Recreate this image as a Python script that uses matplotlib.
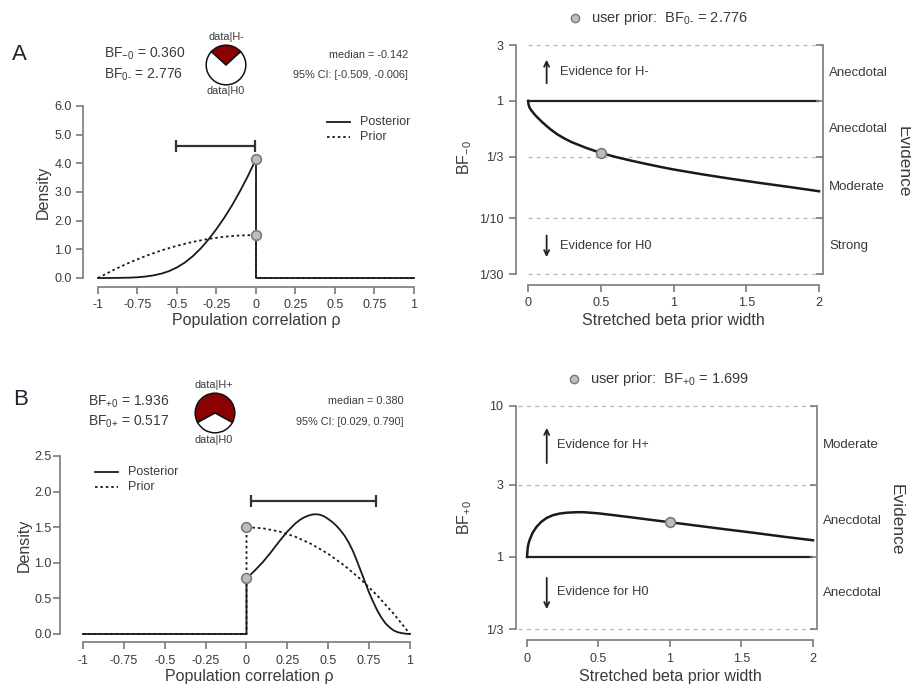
import matplotlib
matplotlib.use('Agg')
import matplotlib.pyplot as plt
from matplotlib.ticker import NullLocator
from matplotlib.lines import Line2D

plt.rcParams['font.family'] = ['Liberation Sans', 'DejaVu Sans']
plt.rcParams['mathtext.fontset'] = 'custom'
plt.rcParams['mathtext.rm'] = 'Liberation Sans'
plt.rcParams['mathtext.it'] = 'Liberation Sans:italic'

W, H, DPI = 912, 687, 100

# ---------------- data ----------------
rho_ticks = [-1, -0.75, -0.5, -0.25, 0, 0.25, 0.5, 0.75, 1]
rho_ticklabels = ['-1', '-0.75', '-0.5', '-0.25', '0', '0.25', '0.5', '0.75', '1']

# Panel A (one-sided H-)
A_post_rho = [-1.0, -0.9, -0.8, -0.75, -0.7, -0.65, -0.6, -0.55, -0.5, -0.45, -0.4,
              -0.35, -0.3, -0.25, -0.2, -0.15, -0.1, -0.05, 0.0, 0.0, 1.0]
A_post = [0.0, 0.002, 0.012, 0.025, 0.05, 0.09, 0.15, 0.24, 0.37, 0.54, 0.76,
          1.03, 1.35, 1.71, 2.11, 2.55, 3.04, 3.57, 4.15, 0.0, 0.0]
A_prior_rho = [-1.0, -0.9, -0.8, -0.7, -0.6, -0.5, -0.4, -0.3, -0.2, -0.1, 0.0, 0.0, 1.0]
A_prior = [0.0, 0.285, 0.54, 0.765, 0.96, 1.125, 1.26, 1.365, 1.44, 1.485, 1.5, 0.0, 0.0]
A_post_at0 = 4.15
A_prior_at0 = 1.5
A_ci = [-0.509, -0.006]
A_yticks = [0, 1, 2, 3, 4, 5, 6]
A_yticklabels = ['0.0', '1.0', '2.0', '3.0', '4.0', '5.0', '6.0']
A_bf10 = 0.360
A_bf01 = 2.776
A_median = -0.142

A_width = [0.0, 0.004, 0.01, 0.02, 0.035, 0.05, 0.075, 0.1, 0.15, 0.2, 0.25, 0.3,
           0.4, 0.5, 0.6, 0.7, 0.8, 0.9, 1.0, 1.2, 1.4, 1.6, 1.8, 2.0]
A_bf = [1.0, 0.93, 0.88, 0.84, 0.795, 0.755, 0.702, 0.655, 0.578, 0.52, 0.478, 0.445,
        0.397, 0.36, 0.333, 0.311, 0.292, 0.275, 0.26, 0.236, 0.216, 0.199, 0.184, 0.1695]
A_user_width = 0.5
A_user_bf = 1 / 2.776
A_levels = [1 / 30, 1 / 10, 1 / 3, 1, 3]
A_levellabels = ['1/30', '1/10', '1/3', '1', '3']
A_evidence = ['Strong', 'Moderate', 'Anecdotal', 'Anecdotal']

# Panel B (one-sided H+)
B_post_rho = [-1.0, 0.0, 0.0, 0.05, 0.1, 0.15, 0.2, 0.25, 0.3, 0.325, 0.35, 0.375, 0.4,
              0.425, 0.45, 0.475, 0.5, 0.525, 0.55, 0.575, 0.6, 0.625, 0.65, 0.675, 0.7,
              0.725, 0.75, 0.775, 0.8, 0.825, 0.85, 0.875, 0.9, 0.925, 0.95, 0.975, 1.0]
B_post = [0.0, 0.0, 0.78, 0.89, 1.01, 1.15, 1.30, 1.44, 1.555, 1.60, 1.635, 1.66, 1.677,
          1.682, 1.675, 1.652, 1.615, 1.572, 1.52, 1.455, 1.38, 1.285, 1.17, 1.03, 0.88,
          0.73, 0.58, 0.45, 0.33, 0.23, 0.15, 0.093, 0.05, 0.025, 0.012, 0.004, 0.0]
B_prior_rho = [-1.0, 0.0, 0.0, 0.1, 0.2, 0.3, 0.4, 0.5, 0.6, 0.7, 0.8, 0.9, 1.0]
B_prior = [0.0, 0.0, 1.5, 1.485, 1.44, 1.365, 1.26, 1.125, 0.96, 0.765, 0.54, 0.285, 0.0]
B_post_at0 = 0.78
B_prior_at0 = 1.5
B_ci = [0.029, 0.790]
B_yticks = [0, 0.5, 1.0, 1.5, 2.0, 2.5]
B_yticklabels = ['0.0', '0.5', '1.0', '1.5', '2.0', '2.5']
B_bf10 = 1.936
B_bf01 = 0.517
B_median = 0.380

B_width = [0.0, 0.005, 0.01, 0.02, 0.04, 0.066, 0.1, 0.136, 0.18, 0.23, 0.28, 0.35,
           0.4, 0.5, 0.6, 0.7, 0.8, 0.9, 1.0, 1.2, 1.4, 1.6, 1.8, 2.0]
B_bf = [1.0, 1.15, 1.22, 1.31, 1.45, 1.58, 1.71, 1.81, 1.89, 1.94, 1.965, 1.98,
        1.978, 1.945, 1.895, 1.845, 1.795, 1.745, 1.699, 1.607, 1.52, 1.44, 1.36, 1.29]
B_user_width = 1.0
B_user_bf = 1.699
B_levels = [1 / 3, 1, 3, 10]
B_levellabels = ['1/3', '1', '3', '10']
B_evidence = ['Anecdotal', 'Anecdotal', 'Moderate']

width_ticks = [0, 0.5, 1, 1.5, 2]
width_ticklabels = ['0', '0.5', '1', '1.5', '2']

# ---------------- style ----------------
SPINE = '#7a7a7a'
TXT = '#3a3a3a'
CURVE = '#1a1a1a'
PT_FACE = '#bdbdbd'
PT_EDGE = '#7a7a7a'
RED = '#8b0000'


def px2pt(p):
    return p * 72 / DPI


def box(l, t, r, b):
    return [l / W, 1 - b / H, (r - l) / W, (b - t) / H]


def ftext(x, y, s, **kw):
    kw.setdefault('color', TXT)
    fig.text(x / W, 1 - y / H, s, **kw)


fig = plt.figure(figsize=(W / DPI, H / DPI), dpi=DPI)


def density_panel(rect, post_rho, post, prior_rho, prior, at0, ci, ci_y,
                  yticks, yticklabels, left_out, bottom_out, legend_xy, ypad):
    ax = fig.add_axes(rect)
    ax.set_xlim(-1, 1)
    ax.set_ylim(yticks[0], yticks[-1])
    ax.plot(prior_rho, prior, color=CURVE, lw=1.3, ls=(0, (1.4, 1.6)), clip_on=False, zorder=3)
    ax.plot(post_rho, post, color=CURVE, lw=1.3, clip_on=False, zorder=3,
            solid_joinstyle='round')
    ax.plot([0, 0], at0, ls='none', marker='o', ms=7, mfc=PT_FACE, mec=PT_EDGE,
            mew=1.2, clip_on=False, zorder=5)
    ax.plot(ci, [ci_y, ci_y], color='#333333', lw=1.6, marker='|', ms=9, mew=1.6,
            clip_on=False, zorder=4)
    for s in ['top', 'right']:
        ax.spines[s].set_visible(False)
    ax.spines['left'].set_position(('outward', px2pt(left_out)))
    ax.spines['bottom'].set_position(('outward', px2pt(bottom_out)))
    ax.spines['left'].set_bounds(yticks[0], yticks[-1])
    ax.spines['bottom'].set_bounds(-1, 1)
    for s in ['left', 'bottom']:
        ax.spines[s].set_color(SPINE)
        ax.spines[s].set_linewidth(1.2)
    ax.set_xticks(rho_ticks)
    ax.set_xticklabels(rho_ticklabels)
    ax.set_yticks(yticks)
    ax.set_yticklabels(yticklabels)
    ax.tick_params(axis='both', colors=SPINE, labelcolor=TXT, labelsize=9,
                   length=5, width=1.2, pad=4)
    ax.tick_params(axis='y', pad=ypad)
    ax.patch.set_visible(False)
    # legend
    lx, ly = legend_xy
    fig.add_artist(Line2D([lx / W, (lx + 23) / W], [1 - ly / H, 1 - ly / H],
                          color=CURVE, lw=1.3))
    fig.add_artist(Line2D([lx / W, (lx + 23) / W], [1 - (ly + 15) / H, 1 - (ly + 15) / H],
                          color=CURVE, lw=1.3, ls=(0, (1.4, 1.6))))
    ftext(lx + 33, ly, 'Posterior', fontsize=9, va='center')
    ftext(lx + 33, ly + 15, 'Prior', fontsize=9, va='center')
    return ax


def bf_panel(rect, width, bf, user_w, user_bf, levels, levellabels, evidence,
             left_out, bottom_out, right_out, dash_x0, hyp, arrows, title_xy, title):
    ax = fig.add_axes(rect)
    ax.set_yscale('log')
    ax.set_xlim(0, 2)
    ax.set_ylim(levels[0], levels[-1])
    for lev in levels:
        if lev != 1:
            ax.plot([dash_x0, 2.03], [lev, lev], color='#bdbdbd', lw=1.0,
                    ls=(0, (3, 3)), clip_on=False, zorder=1)
    ax.plot([0, 2], [1, 1], color='#222222', lw=1.6, zorder=2)
    ax.plot(width, bf, color=CURVE, lw=1.8, clip_on=False, zorder=3,
            solid_joinstyle='round')
    ax.plot([user_w], [user_bf], ls='none', marker='o', ms=7, mfc=PT_FACE, mec=PT_EDGE,
            mew=1.2, zorder=5)
    for s in ['top', 'right']:
        ax.spines[s].set_visible(False)
    ax.spines['left'].set_position(('outward', px2pt(left_out)))
    ax.spines['bottom'].set_position(('outward', px2pt(bottom_out)))
    ax.spines['left'].set_bounds(levels[0], levels[-1])
    ax.spines['bottom'].set_bounds(0, 2)
    for s in ['left', 'bottom']:
        ax.spines[s].set_color(SPINE)
        ax.spines[s].set_linewidth(1.2)
    ax.set_xticks(width_ticks)
    ax.set_xticklabels(width_ticklabels)
    ax.set_yticks(levels)
    ax.set_yticklabels(levellabels)
    ax.yaxis.set_minor_locator(NullLocator())
    ax.tick_params(axis='both', colors=SPINE, labelcolor=TXT, labelsize=9,
                   length=5, width=1.2, pad=4)
    ax.patch.set_visible(False)
    # right evidence axis
    axr = ax.twinx()
    axr.set_yscale('log')
    axr.set_ylim(levels[0], levels[-1])
    axr.set_yticks(levels)
    axr.set_yticklabels([])
    axr.yaxis.set_minor_locator(NullLocator())
    for s in ['top', 'left', 'bottom']:
        axr.spines[s].set_visible(False)
    axr.spines['right'].set_position(('outward', px2pt(right_out)))
    axr.spines['right'].set_bounds(levels[0], levels[-1])
    axr.spines['right'].set_color(SPINE)
    axr.spines['right'].set_linewidth(1.2)
    axr.tick_params(axis='y', direction='in', colors=SPINE, length=5, width=1.2)
    for i, lab in enumerate(evidence):
        ymid = (levels[i] * levels[i + 1]) ** 0.5
        ax.text(2.07, ymid, lab, fontsize=9.5, color=TXT, va='center', ha='left',
                clip_on=False)
    # arrows
    (ux, ut, uh, uy, utext), (dx, dt, dh, dy, dtext) = arrows
    ax.annotate('', xy=(ux, uh), xytext=(ux, ut),
                arrowprops=dict(arrowstyle='->', lw=1.3, color='#222222', mutation_scale=9))
    ax.text(utext, uy, 'Evidence for ' + hyp, fontsize=9.3, color=TXT, va='center')
    ax.annotate('', xy=(dx, dh), xytext=(dx, dt),
                arrowprops=dict(arrowstyle='->', lw=1.3, color='#222222', mutation_scale=9))
    ax.text(dtext, dy, 'Evidence for H0', fontsize=9.3, color=TXT, va='center')
    # title
    tx, ty = title_xy
    fig.add_artist(Line2D([tx / W], [1 - ty / H], ls='none', marker='o', ms=6,
                          mfc=PT_FACE, mec=PT_EDGE, mew=1.0))
    ftext(tx + 16, ty, title, fontsize=10.5, va='center')
    return ax


def pie(cx, cy, r, p):
    axp = fig.add_axes(box(cx - r - 1, cy - r - 1, cx + r + 1, cy + r + 1))
    axp.pie([p, 1 - p], colors=[RED, 'white'], startangle=90 - p * 180,
            counterclock=True, radius=1.0,
            wedgeprops=dict(edgecolor='#111111', linewidth=1.1))
    axp.set_xlim(-1.06, 1.06)
    axp.set_ylim(-1.06, 1.06)
    axp.set_aspect('equal')
    axp.axis('off')


BF0m = r'$\mathregular{BF_{0\text{-}}}$'
BF0p = r'$\mathregular{BF_{0\text{+}}}$'

# ---------------- Panel A ----------------
density_panel(box(98, 106, 414, 278), A_post_rho, A_post, A_prior_rho, A_prior,
              [A_post_at0, A_prior_at0], A_ci, 4.6, A_yticks, A_yticklabels,
              15, 9, (327, 122), 3)
ftext(43, 192, 'Density', fontsize=11.5, rotation=90, ha='center', va='center')
ftext(256, 321, 'Population correlation ρ', fontsize=11.5, ha='center', va='center')

ftext(12, 55, 'A', fontsize=16, ha='left', va='center', color='#222222')
ftext(104, 54, r'$\mathregular{BF_{-0}}$ = %.3f' % A_bf10, fontsize=10, va='center')
ftext(104, 75, BF0m + ' = %.3f' % A_bf01, fontsize=10, va='center')
pie(226, 65, 20, A_bf10 / (1 + A_bf10))
ftext(226, 37, 'data|H-', fontsize=7.8, ha='center', va='center')
ftext(226, 91, 'data|H0', fontsize=7.8, ha='center', va='center')
ftext(408, 55, 'median = %.3f' % A_median, fontsize=7.8, ha='right', va='center')
ftext(408, 75, '95%% CI: [%.3f, %.3f]' % (A_ci[0], A_ci[1]), fontsize=7.8,
      ha='right', va='center')

bf_panel(box(528, 45, 819, 274), A_width, A_bf, A_user_width, A_user_bf,
         A_levels, A_levellabels, A_evidence, 12, 11, 4, 0.0, 'H-',
         [(0.128, 1.34, 2.37, 1.76, 0.22), (0.128, 0.075, 0.044, 0.0576, 0.22)],
         (575, 18), 'user prior:  ' + BF0m + ' = %.3f' % A_bf01)
ftext(465, 158, r'$\mathregular{BF_{-0}}$', fontsize=11.5, rotation=90, ha='center', va='center')
ftext(903, 162, 'Evidence', fontsize=12.5, rotation=-90, ha='center', va='center')
ftext(673, 321, 'Stretched beta prior width', fontsize=11.5, ha='center', va='center')

# ---------------- Panel B ----------------
density_panel(box(83, 456, 410, 634), B_post_rho, B_post, B_prior_rho, B_prior,
              [B_post_at0, B_prior_at0], B_ci, 1.87, B_yticks, B_yticklabels,
              23, 8, (95, 472), 1)
ftext(24, 545, 'Density', fontsize=11.5, rotation=90, ha='center', va='center')
ftext(249, 676, 'Population correlation ρ', fontsize=11.5, ha='center', va='center')

ftext(13, 400, 'B', fontsize=16, ha='left', va='center', color='#222233')
ftext(88, 402, r'$\mathregular{BF_{+0}}$ = %.3f' % B_bf10, fontsize=10, va='center')
ftext(88, 422, BF0p + ' = %.3f' % B_bf01, fontsize=10, va='center')
pie(215, 413, 20, B_bf10 / (1 + B_bf10))
ftext(214, 385, 'data|H+', fontsize=7.8, ha='center', va='center')
ftext(214, 440, 'data|H0', fontsize=7.8, ha='center', va='center')
ftext(404, 401, 'median = %.3f' % B_median, fontsize=7.8, ha='right', va='center')
ftext(404, 422, '95%% CI: [%.3f, %.3f]' % (B_ci[0], B_ci[1]), fontsize=7.8,
      ha='right', va='center')

bf_panel(box(527, 406, 813, 629), B_width, B_bf, B_user_width, B_user_bf,
         B_levels, B_levellabels, B_evidence, 11, 11, 4, -0.06, 'H+',
         [(0.138, 4.01, 7.47, 5.51, 0.21), (0.138, 0.758, 0.433, 0.586, 0.21)],
         (574, 379), r'user prior:  $\mathregular{BF_{+0}}$ = %.3f' % B_user_bf)
ftext(465, 518, r'$\mathregular{BF_{+0}}$', fontsize=11.5, rotation=90, ha='center', va='center')
ftext(896, 520, 'Evidence', fontsize=12.5, rotation=-90, ha='center', va='center')
ftext(670, 677, 'Stretched beta prior width', fontsize=11.5, ha='center', va='center')

fig.savefig('out.png', dpi=DPI)
